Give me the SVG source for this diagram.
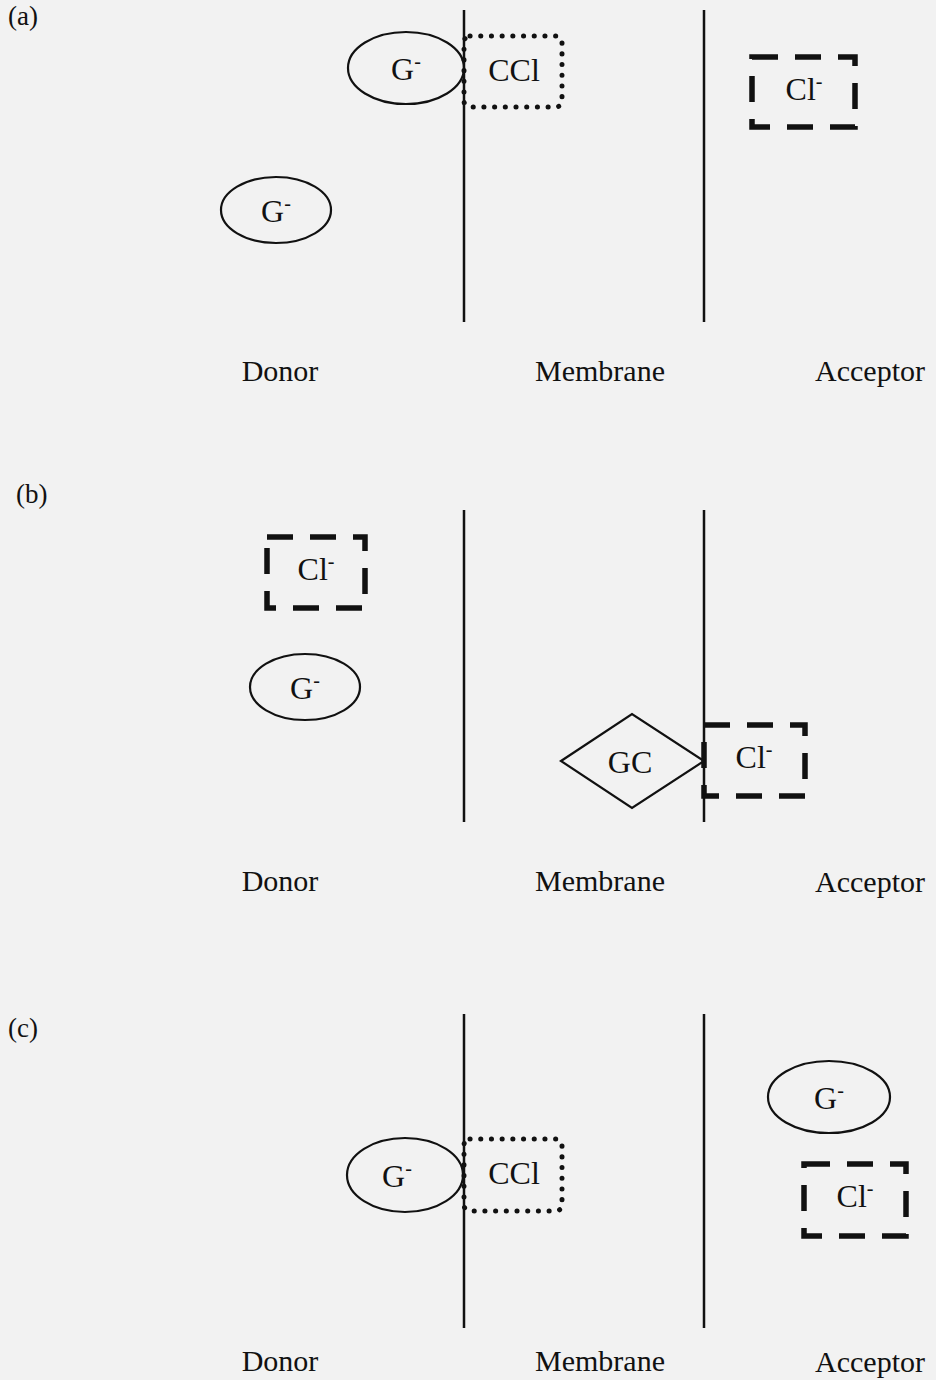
<svg xmlns="http://www.w3.org/2000/svg" width="936" height="1380" viewBox="0 0 936 1380">
<style>
text{font-family:"Liberation Serif","Times New Roman",serif;fill:#111}
.lab{font-size:30px;text-anchor:middle}
.pl{font-size:27px}
.nt{font-size:32px;text-anchor:middle}
.sup{font-size:20px}
.mem{stroke:#111;stroke-width:2.5;fill:none}
.ell{fill:none;stroke:#111;stroke-width:2.2}
.dot{fill:none;stroke:#111;stroke-width:5;stroke-dasharray:0.1 10.6;stroke-linecap:round}
.dash{fill:none;stroke:#111;stroke-width:5.5;stroke-dasharray:26 17}
.dia{fill:none;stroke:#111;stroke-width:2.2}
</style>
<rect width="936" height="1380" fill="#f2f2f2"/>
<g id="membranes">
<line class="mem" x1="464" y1="10" x2="464" y2="322"/>
<line class="mem" x1="704" y1="10" x2="704" y2="322"/>
<line class="mem" x1="464" y1="510" x2="464" y2="822"/>
<line class="mem" x1="704" y1="510" x2="704" y2="822"/>
<line class="mem" x1="464" y1="1014" x2="464" y2="1328"/>
<line class="mem" x1="704" y1="1014" x2="704" y2="1328"/>
</g>
<g id="labels">
<text class="pl" x="8" y="25">(a)</text>
<text class="lab" x="280" y="381">Donor</text>
<text class="lab" x="600" y="381">Membrane</text>
<text class="lab" x="870" y="381">Acceptor</text>
<text class="pl" x="16" y="503">(b)</text>
<text class="lab" x="280" y="891">Donor</text>
<text class="lab" x="600" y="891">Membrane</text>
<text class="lab" x="870" y="892">Acceptor</text>
<text class="pl" x="8" y="1037">(c)</text>
<text class="lab" x="280" y="1371">Donor</text>
<text class="lab" x="600" y="1371">Membrane</text>
<text class="lab" x="870" y="1372">Acceptor</text>
</g>
<g id="a-G1"><ellipse class="ell" cx="406" cy="68" rx="58" ry="36"/><text class="nt" x="406" y="80">G<tspan class="sup" dy="-12">-</tspan></text></g>
<g id="a-CCl"><rect class="dot" x="464" y="36" width="98" height="71" rx="6"/><text class="nt" x="514" y="81">CCl</text></g>
<g id="a-Cl"><rect class="dash" x="752" y="57" width="103" height="70"/><text class="nt" x="804" y="100">Cl<tspan class="sup" dy="-12">-</tspan></text></g>
<g id="a-G2"><ellipse class="ell" cx="276" cy="210" rx="55" ry="33"/><text class="nt" x="276" y="222">G<tspan class="sup" dy="-12">-</tspan></text></g>
<g id="b-Cl"><rect class="dash" x="267" y="537" width="98" height="71"/><text class="nt" x="316" y="580">Cl<tspan class="sup" dy="-12">-</tspan></text></g>
<g id="b-G"><ellipse class="ell" cx="305" cy="687" rx="55" ry="33"/><text class="nt" x="305" y="699">G<tspan class="sup" dy="-12">-</tspan></text></g>
<g id="b-GC"><polygon class="dia" points="561,761 632,714 704,761 632,808"/><text class="nt" x="630" y="773">GC</text></g>
<g id="b-Cl2"><rect class="dash" x="704" y="725" width="101" height="71"/><text class="nt" x="754" y="768">Cl<tspan class="sup" dy="-12">-</tspan></text></g>
<g id="c-G1"><ellipse class="ell" cx="405" cy="1175" rx="58" ry="37"/><text class="nt" x="397" y="1187">G<tspan class="sup" dy="-12">-</tspan></text></g>
<g id="c-CCl"><rect class="dot" x="464" y="1139" width="98" height="72" rx="6"/><text class="nt" x="514" y="1184">CCl</text></g>
<g id="c-G2"><ellipse class="ell" cx="829" cy="1097" rx="61" ry="36"/><text class="nt" x="829" y="1109">G<tspan class="sup" dy="-12">-</tspan></text></g>
<g id="c-Cl"><rect class="dash" x="804" y="1164" width="102" height="72"/><text class="nt" x="855" y="1207">Cl<tspan class="sup" dy="-12">-</tspan></text></g>
<g id="connectors"></g>
</svg>
